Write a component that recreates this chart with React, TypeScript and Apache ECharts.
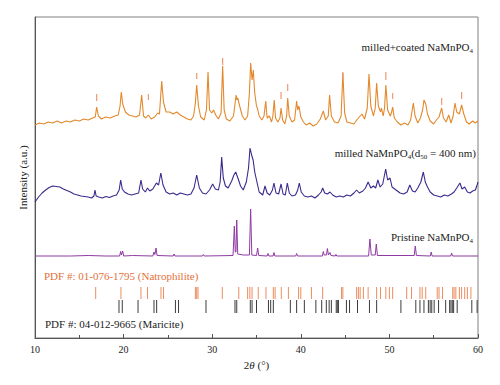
import React, { useEffect, useRef } from 'react';
import * as echarts from 'echarts';

const FONT = "'Liberation Serif', 'DejaVu Serif', serif";

// 2θ range and tick labels
const xMin = 10;
const xMax = 60;
const xStep = 10;

// milled + coated NaMnPO4 (stacked, arbitrary units)
const coated: number[][] = [
  [10,213],[10.5,215],[11,214],[11.5,216],[12,215],[12.5,217],[13,215],[13.5,217],[14,216],[14.5,218],[15,217],[15.5,219],[16,218],[16.5,220],[16.8,221],[16.96,231],[17.15,222],[17.5,219],[18,221],[18.5,220],[19,222],[19.4,223],[19.6,232],[19.74,246],[19.9,234],[20.2,226],[20.6,223],[21,222],[21.4,221],[21.8,223],[22.04,243],[22.25,222],[22.5,220],[22.8,223],[23.1,219],[23.5,221],[23.85,225],[24.05,224],[24.3,257],[24.5,236],[24.8,226],[25.2,226],[25.6,224],[26,226],[26.4,223],[26.8,221],[27.2,219],[27.6,218],[27.9,222],[28.1,235],[28.25,253],[28.45,232],[28.7,221],[29.1,218],[29.35,228],[29.53,266],[29.7,228],[29.95,225],[30.15,228],[30.4,223],[30.7,219],[31.0,225],[31.18,272],[31.35,228],[31.6,219],[32.0,217],[32.4,222],[32.7,243],[32.8,238],[32.88,240],[33.1,232],[33.4,222],[33.7,218],[34.0,222],[34.2,245],[34.34,275],[34.5,258],[34.64,268],[34.8,245],[35.0,232],[35.1,230],[35.3,222],[35.6,218],[35.85,222],[36.04,237],[36.2,220],[36.45,222],[36.7,216],[36.85,222],[37.0,238],[37.15,220],[37.4,216],[37.65,220],[37.77,230],[37.95,218],[38.2,214],[38.4,222],[38.52,240],[38.7,222],[39.0,216],[39.3,218],[39.53,237],[39.65,228],[39.8,232],[40.0,221],[40.3,216],[40.6,213],[41.0,215],[41.4,212],[41.8,214],[42.2,219],[42.54,227],[42.8,218],[43.1,222],[43.25,243],[43.45,222],[43.8,216],[44.2,215],[44.55,222],[44.75,265],[44.95,225],[45.2,216],[45.6,215],[46.0,214],[46.4,219],[46.6,221],[46.9,224],[47.2,219],[47.5,230],[47.7,264],[47.9,232],[48.2,222],[48.4,230],[48.56,255],[48.75,232],[49.0,226],[49.1,230],[49.3,222],[49.45,230],[49.6,253],[49.8,228],[50.1,222],[50.25,226],[50.37,231],[50.55,220],[50.9,216],[51.3,213],[51.7,215],[52.1,213],[52.4,218],[52.7,235],[52.9,222],[53.2,215],[53.5,220],[53.75,228],[53.9,238],[54.1,234],[54.3,224],[54.6,217],[55.0,214],[55.3,218],[55.6,221],[55.9,230],[56.1,220],[56.4,216],[56.7,223],[56.95,215],[57.2,222],[57.4,235],[57.6,226],[57.9,224],[58.15,233],[58.4,224],[58.7,216],[59.0,214],[59.4,217],[59.7,215],[60,217]
];

// milled NaMnPO4 (d50 = 400 nm)
const milled: number[][] = [
  [10,136],[10.4,141],[10.8,145],[11.2,148],[11.6,150.5],[12,152],[12.4,151.5],[12.8,151],[13.2,149],[13.6,147.5],[14,146],[14.4,144],[14.8,143],[15.2,142],[15.6,141.5],[16,141],[16.4,140],[16.65,142],[16.77,148],[16.9,142],[17.2,141],[17.6,140],[18,141.5],[18.4,140.5],[18.8,142],[19.2,143],[19.5,148],[19.67,158],[19.85,149],[20.1,146],[20.5,144],[20.9,143],[21.3,144],[21.7,145],[21.96,158],[22.15,149],[22.45,146],[22.7,150],[22.95,147],[23.3,149],[23.7,155],[23.95,153],[24.2,165],[24.45,153],[24.8,146],[25.2,144],[25.6,145],[26,143],[26.4,145],[26.8,144],[27.2,143],[27.6,144],[27.95,150],[28.25,163],[28.55,150],[28.9,145],[29.3,144],[29.7,148],[30.05,154],[30.35,149],[30.7,148],[30.9,156],[31.07,181],[31.25,160],[31.5,152],[31.8,150],[32.2,157],[32.45,163],[32.65,166],[32.9,160],[33.2,152],[33.5,148],[33.85,156],[34.1,170],[34.27,190],[34.45,183],[34.62,178],[34.8,166],[35.0,158],[35.3,146],[35.7,143],[35.96,152],[36.2,145],[36.5,143],[36.8,148],[36.97,155],[37.2,145],[37.5,144],[37.77,154],[38.0,144],[38.25,143],[38.48,155],[38.7,145],[39.0,142],[39.4,143],[39.65,148],[39.83,155],[40.05,146],[40.4,142],[40.8,141],[41.2,142],[41.6,140],[42.0,143],[42.3,146],[42.47,150],[42.7,145],[43.0,144],[43.3,146],[43.6,143],[44.0,141],[44.4,142],[44.8,141],[45.2,143],[45.6,142],[46.0,145],[46.3,148],[46.6,145],[47.0,147],[47.3,150],[47.6,156],[47.9,150],[48.2,152],[48.45,150],[48.7,158],[48.95,151],[49.25,154],[49.58,169],[49.8,158],[50.07,160],[50.3,151],[50.6,149],[50.9,147],[51.2,145],[51.6,144],[52.0,146],[52.3,153],[52.6,147],[52.9,146],[53.2,150],[53.55,156],[53.83,166],[54.05,156],[54.3,151],[54.6,146],[55.0,143],[55.4,142],[55.8,141],[56.2,143],[56.6,142],[57.0,144],[57.3,146],[57.6,150],[57.96,155],[58.2,149],[58.5,151],[58.8,146],[59.1,145],[59.4,147],[59.7,148],[59.9,153],[60,156]
];

// Pristine NaMnPO4
const pristine: number[][] = [
  [10,82],[12,82],[14,82],[16,82.5],[18,82],[19.55,82],[19.67,86.5],[19.75,83],[19.82,83],[19.9,87],[20.0,82],[21,82.5],[23.3,82],[23.43,86],[23.53,83.5],[23.66,90],[23.78,82.5],[25.6,82],[25.7,84],[25.8,82],[28.9,82],[29.0,83.5],[29.1,82],[32.35,82.5],[32.5,112],[32.6,86],[32.68,86],[32.77,118],[32.88,84],[33.5,83],[34.2,83],[34.34,129],[34.47,83],[35.0,82.5],[35.13,90],[35.25,82.5],[36.2,82],[36.3,84.5],[36.4,82],[36.87,82],[36.97,85.5],[37.07,82],[39.43,82],[39.53,84.5],[39.63,82],[42.44,82],[42.54,86.5],[42.64,83],[42.9,83],[43.0,89.5],[43.12,83],[43.3,85.5],[43.4,82.5],[43.88,82],[43.97,83.5],[44.06,82],[47.65,82],[47.8,99],[47.95,83],[48.4,83],[48.52,94],[48.65,82.5],[52.8,82.5],[52.92,92],[53.05,82.5],[54.62,82],[54.72,86],[54.82,82],[56.92,82],[57.02,85],[57.12,82],[60,82]
];

// Natrophilite reflection markers above the coated pattern: [2θ, from, to]
const coatedMarks: number[][] = [
  [16.96,237,244],[22.8,238,244],[28.25,259,265],[31.18,273,280],[37.77,239,246],[38.52,247,254],[44.75,259,266],[49.6,258,266],[50.37,239,245],[55.9,233,240],[58.15,239,246]
];

// PDF #: 01-076-1795 (Natrophilite) reflection positions
const natrophilite: number[] = [
  16.85,19.7,21.96,22.7,24.22,24.5,28.1,28.25,28.4,31.14,33.0,34.0,34.25,34.5,35.2,36.07,36.9,37.1,37.8,38.6,39.75,40.0,41.2,42.47,44.6,44.75,46.3,46.5,46.7,47.06,47.6,48.56,49.0,49.6,50.0,50.37,51.95,52.5,53.45,53.7,54.1,55.4,55.6,56.0,57.15,57.3,57.5,57.9,58.15,58.5,58.8,59.2
];

// PDF #: 04-012-9665 (Maricite) reflection positions
const maricite: number[] = [
  19.48,19.85,21.63,23.43,23.73,25.85,26.2,29.3,32.57,32.77,34.3,34.5,35.0,36.35,36.6,36.9,38.82,39.53,40.4,41.7,42.36,42.88,43.2,43.45,44.0,44.12,44.25,45.15,45.5,46.4,47.75,48.56,51.3,52.98,53.45,53.9,54.4,54.6,54.78,55.05,55.55,56.35,56.8,56.95,57.1,57.25,57.65,59.3,59.9
];

// stick band ranges (y units)
const natroBand = [39, 51];
const mariBand = [25, 38];

function stickSeries(data: number[][], color: string, width: number) {
  return {
    type: 'custom',
    silent: true,
    data,
    encode: { x: 0, y: [1, 2] },
    z: 3,
    renderItem: (params: any, api: any) => {
      const a = api.coord([api.value(0), api.value(1)]);
      const b = api.coord([api.value(0), api.value(2)]);
      return {
        type: 'line',
        shape: { x1: a[0], y1: a[1], x2: b[0], y2: b[1] },
        style: { stroke: color, lineWidth: width },
      };
    },
  };
}

const subRich = {
  s: { fontSize: 7, fontFamily: FONT, fill: '#222', padding: [8, 0, 0, 0] },
};

export default function App() {
  const ref = useRef<HTMLDivElement>(null);
  useEffect(() => {
    const chart = echarts.init(ref.current!, null, { renderer: 'svg' });
    const option: any = {
      animation: false,
      backgroundColor: '#fff',
      grid: { left: 35, right: 22, top: 17, bottom: 47, show: true, borderColor: '#808080', borderWidth: 1 },
      xAxis: {
        type: 'value',
        min: xMin,
        max: xMax,
        interval: xStep,
        name: '2{i|θ} (°)',
        nameLocation: 'middle',
        nameGap: 21,
        nameTextStyle: {
          fontFamily: FONT, fontSize: 11, color: '#222',
          rich: { i: { fontStyle: 'italic', fontFamily: FONT, fontSize: 11, color: '#222' } },
        },
        axisLine: { lineStyle: { color: '#555', width: 1 } },
        axisTick: { inside: true, length: 4, lineStyle: { color: '#555' } },
        minorTick: { show: true, splitNumber: 2, length: 3, lineStyle: { color: '#555' } },
        splitLine: { show: false },
        axisLabel: { margin: 6, fontFamily: FONT, fontSize: 10, color: '#222' },
      },
      yAxis: {
        type: 'value',
        min: 0,
        max: 321,
        name: 'Intensity (a.u.)',
        nameLocation: 'middle',
        nameGap: 7,
        nameTextStyle: { fontFamily: FONT, fontSize: 11, color: '#222' },
        axisLine: { show: true, lineStyle: { color: '#555', width: 1 } },
        axisTick: { show: false },
        axisLabel: { show: false },
        splitLine: { show: false },
      },
      series: [
        { type: 'line', data: coated, showSymbol: false, lineStyle: { color: '#e3892c', width: 1.1 }, z: 2 },
        { type: 'line', data: milled, showSymbol: false, lineStyle: { color: '#3a2a8e', width: 1.1 }, z: 2 },
        { type: 'line', data: pristine, showSymbol: false, lineStyle: { color: '#8f3aa3', width: 1 }, z: 2 },
        stickSeries(coatedMarks, '#ee9870', 1.2),
        stickSeries(natrophilite.map((x) => [x, natroBand[0], natroBand[1]]), '#ec8c60', 1),
        stickSeries(maricite.map((x) => [x, mariBand[0], mariBand[1]]), '#3c3c3c', 1),
      ],
      graphic: [
        {
          type: 'text', x: 473, y: 47,
          style: { text: 'milled+coated NaMnPO{s|4}', fontFamily: FONT, fontSize: 11, fill: '#222', align: 'right', verticalAlign: 'middle', rich: subRich },
        },
        {
          type: 'text', x: 476, y: 153,
          style: { text: 'milled NaMnPO{s|4}(d{s|50} = 400 nm)', fontFamily: FONT, fontSize: 11, fill: '#222', align: 'right', verticalAlign: 'middle', rich: subRich },
        },
        {
          type: 'text', x: 473, y: 237,
          style: { text: 'Pristine NaMnPO{s|4}', fontFamily: FONT, fontSize: 11, fill: '#222', align: 'right', verticalAlign: 'middle', rich: subRich },
        },
        {
          type: 'text', x: 44, y: 276,
          style: { text: 'PDF #: 01-076-1795 (Natrophilite)', fontFamily: FONT, fontSize: 11, fill: '#e2703a', align: 'left', verticalAlign: 'middle' },
        },
        {
          type: 'text', x: 45, y: 324,
          style: { text: 'PDF #: 04-012-9665 (Maricite)', fontFamily: FONT, fontSize: 11, fill: '#222', align: 'left', verticalAlign: 'middle' },
        },
      ],
    };
    chart.setOption(option);
    return () => chart.dispose();
  }, []);
  return <div ref={ref} style={{ position: 'fixed', left: 0, top: 0, width: 500, height: 385 }} />;
}
